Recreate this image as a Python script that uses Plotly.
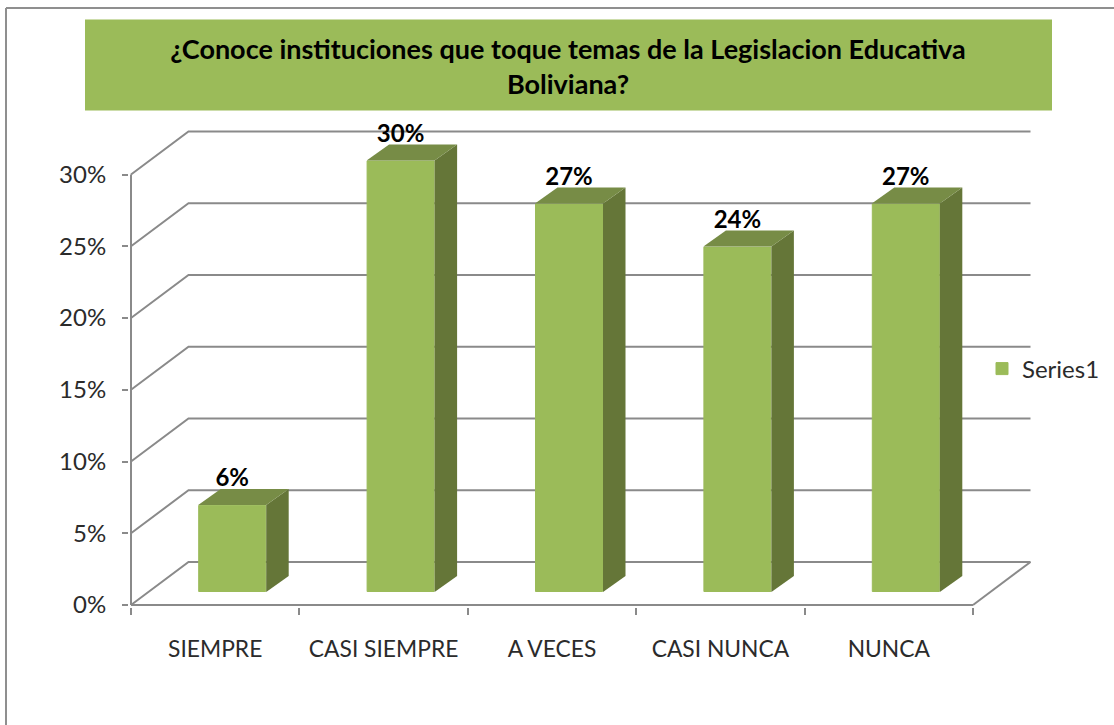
import plotly.graph_objects as go

categories = ["SIEMPRE", "CASI SIEMPRE", "A VECES", "CASI NUNCA", "NUNCA"]
values = [6, 30, 27, 24, 27]
labels = ["6%", "30%", "27%", "24%", "27%"]
y_ticks = [0, 5, 10, 15, 20, 25, 30]
y_ticktext = ["0%", "5%", "10%", "15%", "20%", "25%", "30%"]
series_name = "Series1"
title_text = "¿Conoce instituciones que toque temas de la Legislacion Educativa<br>Boliviana?"

W, H = 1114, 725
X0, X1 = 131, 973      # front box, px
Y0, Y30 = 605, 174.5
PX_CAT = (X1 - X0) / 5
PX_PCT = (Y0 - Y30) / 30

# the plot area is bigger than the front box so the depth lines are not clipped
AREA_L, AREA_R, AREA_B, AREA_T = 129, 1036, 607, 125
x_range = [-0.5 - (X0 - AREA_L) / PX_CAT, 4.5 + (AREA_R - X1) / PX_CAT]
y_range = [-(AREA_B - Y0) / PX_PCT, (Y0 - AREA_T) / PX_PCT]

WALL_DX, WALL_DY = 57.5 / PX_CAT, 43 / PX_PCT
BAR_SHIFT = -16.5 / PX_CAT
BAR_W = 67 / PX_CAT
BAR_BASE = 13.5 / PX_PCT
BAR_EDGE_X, BAR_EDGE_Y = 0.5 / PX_CAT, 0.5 / PX_PCT
BAR_DX, BAR_DY = 22.5 / PX_CAT, 16 / PX_PCT
LABEL_DY = 13 / PX_PCT

GRID = "#8a8a8a"
FRONT, SIDE, TOP = "#9BBB59", "#657638", "#778C46"
FONT = "Lato"
TEXT = "#2b2b2b"

fig = go.Figure()


def wall_line(xs, ys):
    fig.add_trace(go.Scatter(
        x=xs, y=ys, mode="lines", line=dict(color=GRID, width=2),
        showlegend=False, hoverinfo="skip", xaxis="x", yaxis="y"))


# back wall, side wall and floor of the 3D box
for v in y_ticks:
    wall_line([-0.5, -0.5 + WALL_DX, 4.5 + WALL_DX], [v, v + WALL_DY, v + WALL_DY])
wall_line([4.5, 4.5 + WALL_DX], [0, WALL_DY])
# front axis lines
wall_line([-0.5, -0.5], [0, 30])
wall_line([-0.5, 4.5], [0, 0])

# front faces
fig.add_trace(go.Bar(
    x=list(range(5)), y=values, base=BAR_BASE, width=BAR_W, offset=BAR_SHIFT,
    marker=dict(color=FRONT, line=dict(width=1, color=FRONT)), name=series_name,
    showlegend=True, xaxis="x2", yaxis="y2"))

# side and top faces
for i, v in enumerate(values):
    left = i + BAR_SHIFT - BAR_EDGE_X
    right = i + BAR_SHIFT + BAR_W + BAR_EDGE_X
    bottom = BAR_BASE - BAR_EDGE_Y
    top = v + BAR_BASE + BAR_EDGE_Y
    fig.add_trace(go.Scatter(
        x=[right, right + BAR_DX, right + BAR_DX, right, right],
        y=[bottom, bottom + BAR_DY, top + BAR_DY, top, bottom],
        mode="lines", fill="toself", fillcolor=SIDE, line=dict(width=0, color=SIDE),
        showlegend=False, hoverinfo="skip", xaxis="x2", yaxis="y2"))
    fig.add_trace(go.Scatter(
        x=[left, left + BAR_DX, right + BAR_DX, right, left],
        y=[top, top + BAR_DY, top + BAR_DY, top, top],
        mode="lines", fill="toself", fillcolor=TOP, line=dict(width=0, color=TOP),
        showlegend=False, hoverinfo="skip", xaxis="x2", yaxis="y2"))

# data labels
fig.add_trace(go.Scatter(
    x=[i + BAR_SHIFT + BAR_W / 2 for i in range(5)],
    y=[v + BAR_BASE + LABEL_DY for v in values],
    mode="text", text=labels, textposition="top center",
    textfont=dict(family=FONT, size=24, color="#000000", weight="bold"),
    cliponaxis=False, showlegend=False, hoverinfo="skip", xaxis="x2", yaxis="y2"))

dom_x = [AREA_L / W, AREA_R / W]
dom_y = [1 - AREA_B / H, 1 - AREA_T / H]
fig.update_layout(
    width=W, height=H, margin=dict(l=0, r=0, t=0, b=0, autoexpand=False),
    paper_bgcolor="white", plot_bgcolor="rgba(0,0,0,0)",
    font=dict(family=FONT, color=TEXT),
    title=dict(text=title_text, x=568 / W, xanchor="center", xref="paper",
               y=1 - 59 / H, yanchor="top", yref="paper",
               font=dict(family=FONT, size=27, color="#000000", weight="bold")),
    xaxis=dict(domain=dom_x, range=x_range, tickmode="array",
               tickvals=[-0.5, 0.5, 1.5, 2.5, 3.5, 4.5], ticktext=[""] * 6,
               ticks="outside", ticklen=7, tickwidth=2, tickcolor=GRID,
               showline=False, showgrid=False, zeroline=False),
    yaxis=dict(domain=dom_y, range=y_range, tickmode="array", tickvals=y_ticks,
               ticktext=y_ticktext, ticks="outside", ticklen=6, tickwidth=2, tickcolor=GRID,
               tickfont=dict(family=FONT, size=24, color=TEXT), ticklabelstandoff=11,
               showline=False, showgrid=False, zeroline=False),
    xaxis2=dict(domain=dom_x, range=x_range, overlaying="x", anchor="y2",
                tickmode="array", tickvals=list(range(5)), ticktext=categories,
                tickfont=dict(family=FONT, size=22.8, color=TEXT), ticks="",
                ticklabelstandoff=26, showline=False, showgrid=False, zeroline=False),
    yaxis2=dict(domain=dom_y, range=y_range, overlaying="y", anchor="x2", visible=False),
    barmode="overlay",
    legend=dict(x=982 / W, xanchor="left", y=1 - 369 / H, yanchor="middle",
                bgcolor="rgba(0,0,0,0)", font=dict(family=FONT, size=24, color=TEXT)),
    shapes=[
        dict(type="rect", xref="paper", yref="paper", layer="below",
             x0=85 / W, x1=1052 / W, y0=1 - 110.5 / H, y1=1 - 19.5 / H,
             fillcolor=FRONT, line=dict(width=0)),
        dict(type="line", xref="paper", yref="paper", layer="below",
             x0=6 / W, x1=1, y0=1 - 8 / H, y1=1 - 8 / H, line=dict(color="#8f8f8f", width=2)),
        dict(type="line", xref="paper", yref="paper", layer="below",
             x0=6 / W, x1=6 / W, y0=0, y1=1 - 8 / H, line=dict(color="#8f8f8f", width=2)),
    ],
)

fig.write_html("out.html", config=dict(displayModeBar=False),
               post_script="document.body.style.margin='0';document.body.style.overflow='hidden';")
